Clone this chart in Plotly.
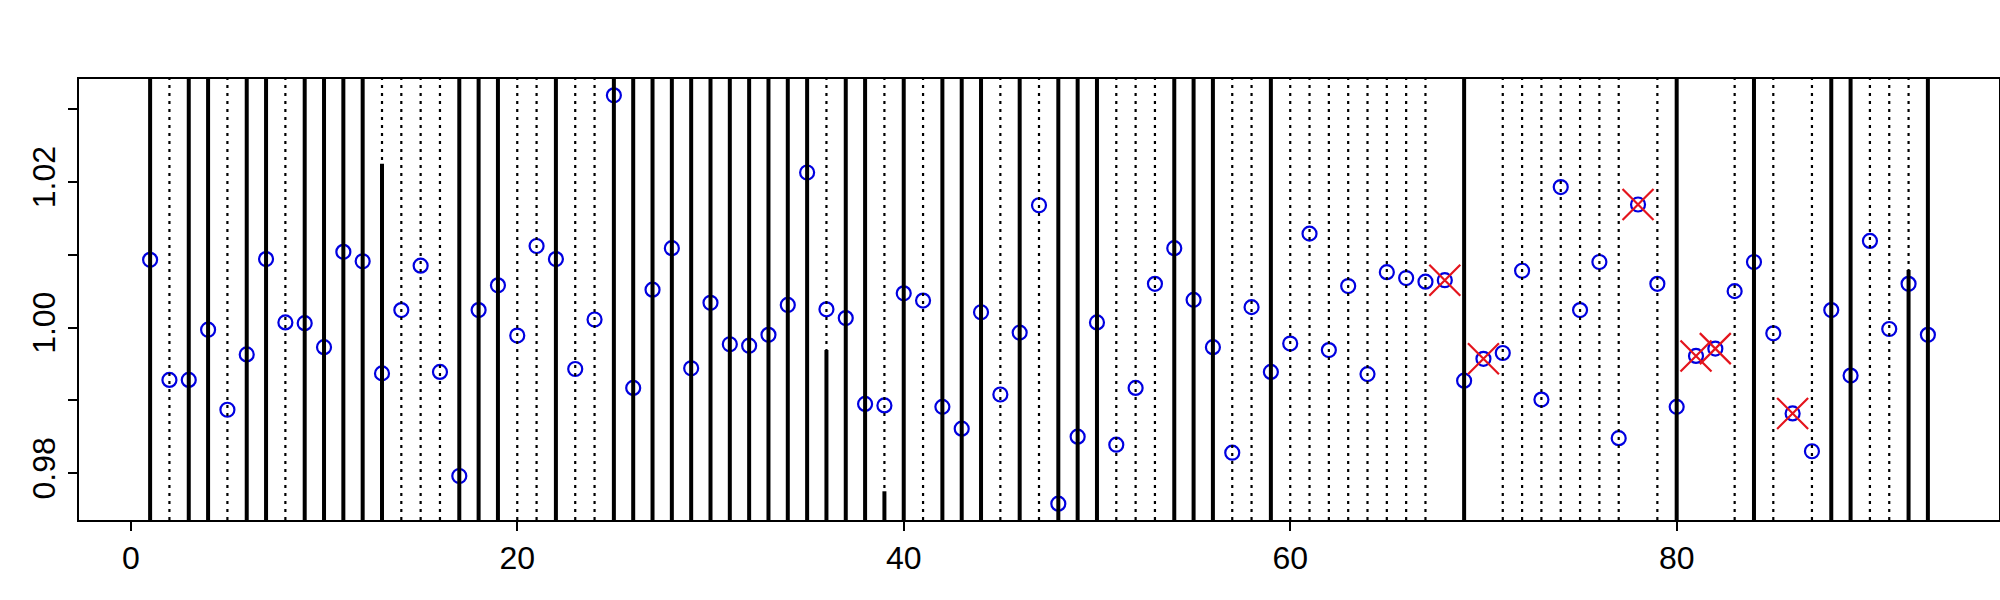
import plotly.graph_objects as go

# ---- data ----
index = list(range(1, 94))
values = [
    1.0093, 0.9928, 0.9928, 0.9997, 0.9887, 0.9963, 1.0094, 1.0007, 1.0006, 0.9973,
    1.0104, 1.0091, 0.9937, 1.0024, 1.0085, 0.9939, 0.9796, 1.0024, 1.0058, 0.9989,
    1.0112, 1.0094, 0.9943, 1.0011, 1.0319, 0.9917, 1.0052, 1.0109, 0.9944, 1.0034,
    0.9977, 0.9975, 0.9990, 1.0031, 1.0213, 1.0025, 1.0013, 0.9895, 0.9893, 1.0047,
    1.0037, 0.9891, 0.9861, 1.0021, 0.9908, 0.9993, 1.0168, 0.9758, 0.9850, 1.0007,
    0.9839, 0.9917, 1.0060, 1.0109, 1.0038, 0.9973, 0.9828, 1.0028, 0.9939, 0.9978,
    1.0129, 0.9969, 1.0057, 0.9936, 1.0076, 1.0068, 1.0063, 1.0065, 0.9927, 0.9957,
    0.9965, 1.0078, 0.9901, 1.0193, 1.0024, 1.0090, 0.9848, 1.0169, 1.0060, 0.9891,
    0.9961, 0.9971, 1.0050, 1.0090, 0.9992, 0.9882, 0.9830, 1.0024, 0.9934, 1.0119,
    0.9998, 1.0060, 0.9990,
]
# S = solid full-height line, D = dotted line, P = dotted + partial solid, N = none
line_style = list(
    "SDSSDSSDSS" "SSPDDDSSSD" "DSDDSSSSSS" "SSSSSPSSPS" "DSSSDSDSSS"
    "DDDSSSDDSD" "DDDDDDDNSN" "DDDDDDDNDS" "NNDSDNDSSD" "DPS"
)
partial_index = [13, 36, 39, 92]
partial_top = [1.0225, 0.9969, 0.9775, 1.0079]
flagged = [68, 70, 78, 81, 82, 86]

x_ticks = [0, 20, 40, 60, 80]
y_ticks = [0.98, 0.99, 1.00, 1.01, 1.02, 1.03]
y_ticktext = ["0.98", "", "1.00", "", "1.02", ""]

assert len(values) == len(index) == len(line_style)

# R-style 4% axis extension
xmin, xmax = min(index), max(index)
ymin, ymax = min(values), max(values)
dx, dy = (xmax - xmin) * 0.04, (ymax - ymin) * 0.04
x_range = [xmin - dx, xmax + dx]
y_range = [ymin - dy, ymax + dy]

def segs(xs, y0s, y1s):
    X, Y = [], []
    for x, a, b in zip(xs, y0s, y1s):
        X += [x, x, None]
        Y += [a, b, None]
    return X, Y

solid_x = [i for i, s in zip(index, line_style) if s == "S"]
dotted_x = [i for i, s in zip(index, line_style) if s in ("D", "P")]

fig = go.Figure()

# points
fig.add_trace(go.Scatter(
    x=index, y=values, mode="markers",
    marker=dict(symbol="circle-open", size=14, color="#0000E0",
                line=dict(width=2.2, color="#0000E0")),
    showlegend=False, hoverinfo="skip"))

# dotted lines
X, Y = segs(dotted_x, [y_range[0]] * len(dotted_x), [y_range[1]] * len(dotted_x))
fig.add_trace(go.Scatter(x=X, y=Y, mode="lines",
                         line=dict(color="black", width=2.2, dash="3px,5px"),
                         showlegend=False, hoverinfo="skip"))

# solid full lines
X, Y = segs(solid_x, [y_range[0]] * len(solid_x), [y_range[1]] * len(solid_x))
fig.add_trace(go.Scatter(x=X, y=Y, mode="lines",
                         line=dict(color="black", width=4),
                         showlegend=False, hoverinfo="skip"))

# partial solid lines
X, Y = segs(partial_index, [y_range[0]] * len(partial_index), partial_top)
fig.add_trace(go.Scatter(x=X, y=Y, mode="lines",
                         line=dict(color="black", width=4),
                         showlegend=False, hoverinfo="skip"))

# flagged points
fig.add_trace(go.Scatter(
    x=flagged, y=[values[i - 1] for i in flagged], mode="markers",
    marker=dict(symbol="x-thin-open", size=31, color="#E4141C",
                line=dict(width=2.2, color="#E4141C")),
    showlegend=False, hoverinfo="skip"))

axis_font = dict(family="Liberation Sans, Arial, sans-serif", size=32, color="black")

fig.update_layout(
    width=2000, height=600,
    margin=dict(l=79, r=1, t=79, b=80, autoexpand=False),
    plot_bgcolor="white", paper_bgcolor="white",
    xaxis=dict(range=x_range, tickvals=x_ticks, ticks="outside", ticklen=9,
               tickwidth=2, tickcolor="black", showline=True, mirror=True,
               linewidth=2, linecolor="black", showgrid=False, zeroline=False,
               tickfont=axis_font, automargin=False),
    yaxis=dict(range=y_range, tickvals=y_ticks, ticktext=y_ticktext,
               tickangle=-90, ticks="outside", ticklen=9, tickwidth=2,
               tickcolor="black", showline=True, mirror=True, linewidth=2,
               linecolor="black", showgrid=False, zeroline=False,
               tickfont=axis_font, automargin=False),
)

fig.write_html(
    "out.html",
    config={"displayModeBar": False, "staticPlot": True},
    post_script="document.body.style.margin='0';document.body.style.overflow='hidden';",
)
